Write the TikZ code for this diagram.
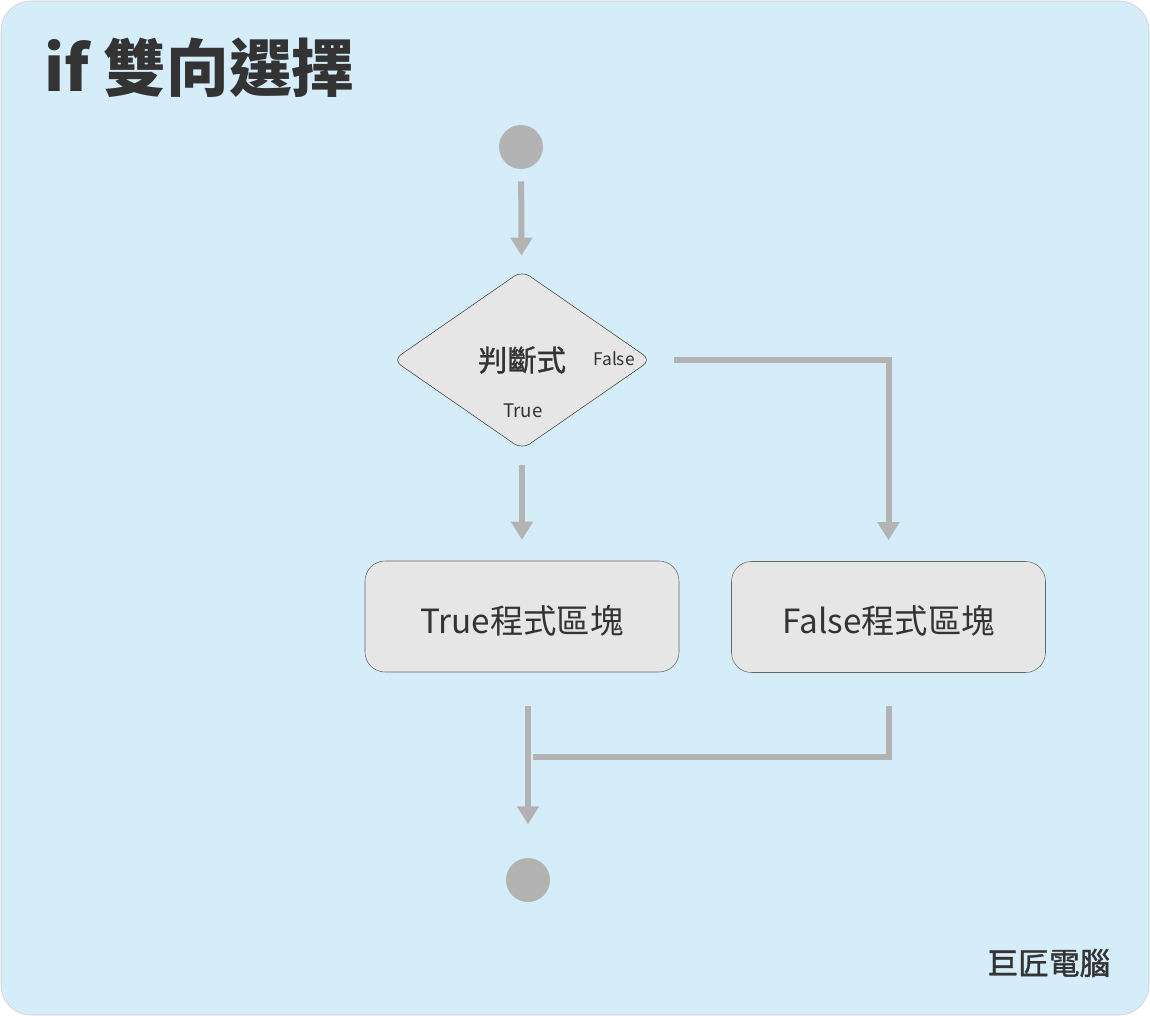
\documentclass[tikz,border=0pt]{standalone}
\usepackage{fontspec}
\setmainfont{Noto Sans CJK TC}
\newfontfamily\semibold[FakeBold=1.2]{Noto Sans CJK TC}
\usetikzlibrary{arrows.meta,shapes.geometric}
\definecolor{bgblue}{HTML}{D5EDF8}
\definecolor{flowgray}{HTML}{B3B3B3}
\definecolor{boxfill}{HTML}{E6E6E6}
\definecolor{textgray}{HTML}{333333}
\tikzset{
  flow/.style={draw=flowgray, line width=4.5pt, -{Triangle[width=15.75pt,length=13.5pt]}},
  flowline/.style={draw=flowgray, line width=4.5pt},
  dot/.style={circle, fill=flowgray, minimum size=33pt, inner sep=0pt},
  block/.style={draw=black!60, fill=boxfill, rounded corners=15pt, minimum width=235.5pt,
    minimum height=83.25pt, font=\fontsize{25}{28}\selectfont, text=textgray},
}
\begin{document}
\begin{tikzpicture}[x=0.75pt, y=-0.75pt]
  % Frame
  \fill[white] (0,0) rectangle (1150,1016);
  \useasboundingbox (0,0) rectangle (1150,1016);
  \draw[draw=black!20, fill=bgblue, rounded corners=22.5pt] (1,1) rectangle (1149,1015);
  \node[anchor=base west, inner sep=0pt, text=textgray, font=\fontsize{47}{50}\selectfont\bfseries] (title) at (44,92) {if 雙向選擇};
  % Nodes
  \node[dot] (start) at (521,147) {};
  \node[diamond, aspect=1.46, draw=black!75, fill=boxfill, rounded corners=7pt, inner sep=0pt,
    minimum width=193.5pt, minimum height=134pt, text=textgray,
    font=\fontsize{22}{24}\selectfont\semibold] (cond) at (522,360) {\raisebox{1pt}{判斷式}};
  \node[text=textgray, font=\fontsize{13}{15}\selectfont] (flbl) at (614,359) {False};
  \node[text=textgray, font=\fontsize{14}{16}\selectfont] (tlbl) at (523,411) {True};
  \node[block] (tblk) at (522,616.5) {\raisebox{-3pt}[\height][\depth]{True程式區塊}};
  \node[block] (fblk) at (888.5,617) {\raisebox{-3pt}[\height][\depth]{False程式區塊}};
  \node[dot] (stop) at (528,880) {};
  \coordinate (join) at (533,757);
  \node[anchor=east, text=textgray, font=\fontsize{23}{25}\selectfont\semibold] (brand) at (1115,963) {巨匠電腦};
  % Connectors
  \draw[flow, shorten <=9pt, shorten >=11.25pt] (start) -- (cond);
  \draw[flow, shorten <=11.25pt, shorten >=15.75pt] (cond) -- (tblk);
  \draw[flow, shorten <=17.25pt, shorten >=15.75pt] (cond.east) -| (fblk.north);
  \draw[flow, shorten <=25.5pt, shorten >=25pt] (tblk.south -| stop) -- (stop);
  \draw[flowline, shorten <=24.75pt] (fblk.south) |- (join);
\end{tikzpicture}
\end{document}
